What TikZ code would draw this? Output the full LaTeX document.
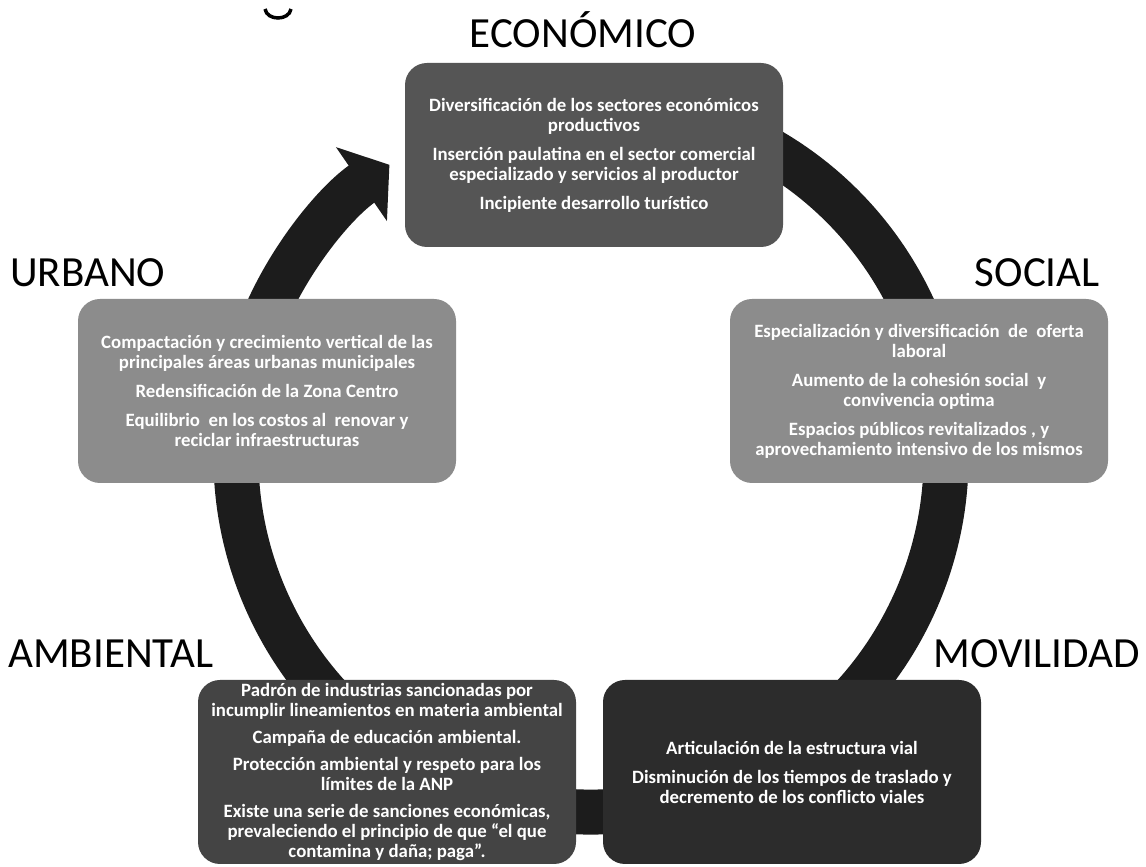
\documentclass[tikz,border=0pt]{standalone}
\usepackage{fontspec}
\setmainfont{Carlito}
\usetikzlibrary{arrows.meta,positioning}
\definecolor{RingDark}{HTML}{1C1C1C}
\definecolor{CardEcon}{HTML}{555555}
\definecolor{CardLight}{HTML}{8C8C8C}
\definecolor{CardAmb}{HTML}{444444}
\definecolor{CardMov}{HTML}{2C2C2C}
\tikzset{>=Stealth,every node/.style={font=\normalsize},card/.style={rounded corners=22pt,
 minimum width=378pt,minimum height=184pt,inner sep=0pt,align=center,text=white,
 font=\fontsize{18.8}{20}\selectfont\bfseries},heading/.style={inner sep=0pt,
 font=\fontsize{43}{43}\selectfont}}

\begin{document}
\begin{tikzpicture}[x=1pt,y=1pt,
 ring/.style={draw=RingDark,line width=45pt},
 ringtip/.style={-{Triangle[length=34pt,width=88pt]}}]
\useasboundingbox[fill=white] (0,0) rectangle (1146,867);
% One ring behind the cards, running clockwise into the only head.
\draw[ring,ringtip] ([shift={(591,410)}]65:355)
 arc[start angle=65,end angle=-235.4,radius=355];
\node[card,fill=CardEcon] (econ) at (594,712)
 {Diversificación de los sectores económicos\\productivos\\[9pt]
  Inserción paulatina en el sector comercial\\especializado y servicios al productor\\[9pt]
  Incipiente desarrollo turístico};
\node[card,fill=CardLight] (urbano) at (267,476)
 {Compactación y crecimiento vertical de las\\principales áreas urbanas municipales\\[9pt]
  Redensificación de la Zona Centro\\[9pt]
  Equilibrio\ \ en los costos al\ \ renovar y\\reciclar infraestructuras};
\node[card,fill=CardLight] (social) at (919,476)
 {Especialización y diversificación\ \ de\ \ oferta\\laboral\\[9pt]
  Aumento de la cohesión social\ \ y\\convivencia optima\\[9pt]
  Espacios públicos revitalizados , y\\aprovechamiento intensivo de los mismos};
\node[card,fill=CardAmb] (ambiental) at (387,95)
 {Padrón de industrias sancionadas por\\incumplir lineamientos en materia ambiental\\[7pt]
  Campaña de educación ambiental.\\[7pt]
  Protección ambiental y respeto para los\\límites de la ANP\\[7pt]
  Existe una serie de sanciones económicas,\\prevaleciendo el principio de que “el que\\
  contamina y daña; paga”.};
\node[card,fill=CardMov] (movilidad) at (792,95)
 {Articulación de la estructura vial\\[9pt]
  Disminución de los tiempos de traslado y\\decremento de los conflicto viales};
% Headings sit on their baselines just above the cards.
\node[heading,anchor=base] (tecon) at (583,819) {ECONÓMICO};
\node[heading,anchor=base west] (turbano) at (10,580) {URBANO};
\node[heading,anchor=base east] (tsocial) at (1100,580) {SOCIAL};
\node[heading,anchor=base west] (tambiental) at (8,199) {AMBIENTAL};
\node[heading,anchor=base east] (tmovilidad) at (1140,199) {MOVILIDAD};
\draw[line width=3.5pt] (265,858) .. controls (267,846) and (289,846) .. (291,858);
\end{tikzpicture}
\end{document}
